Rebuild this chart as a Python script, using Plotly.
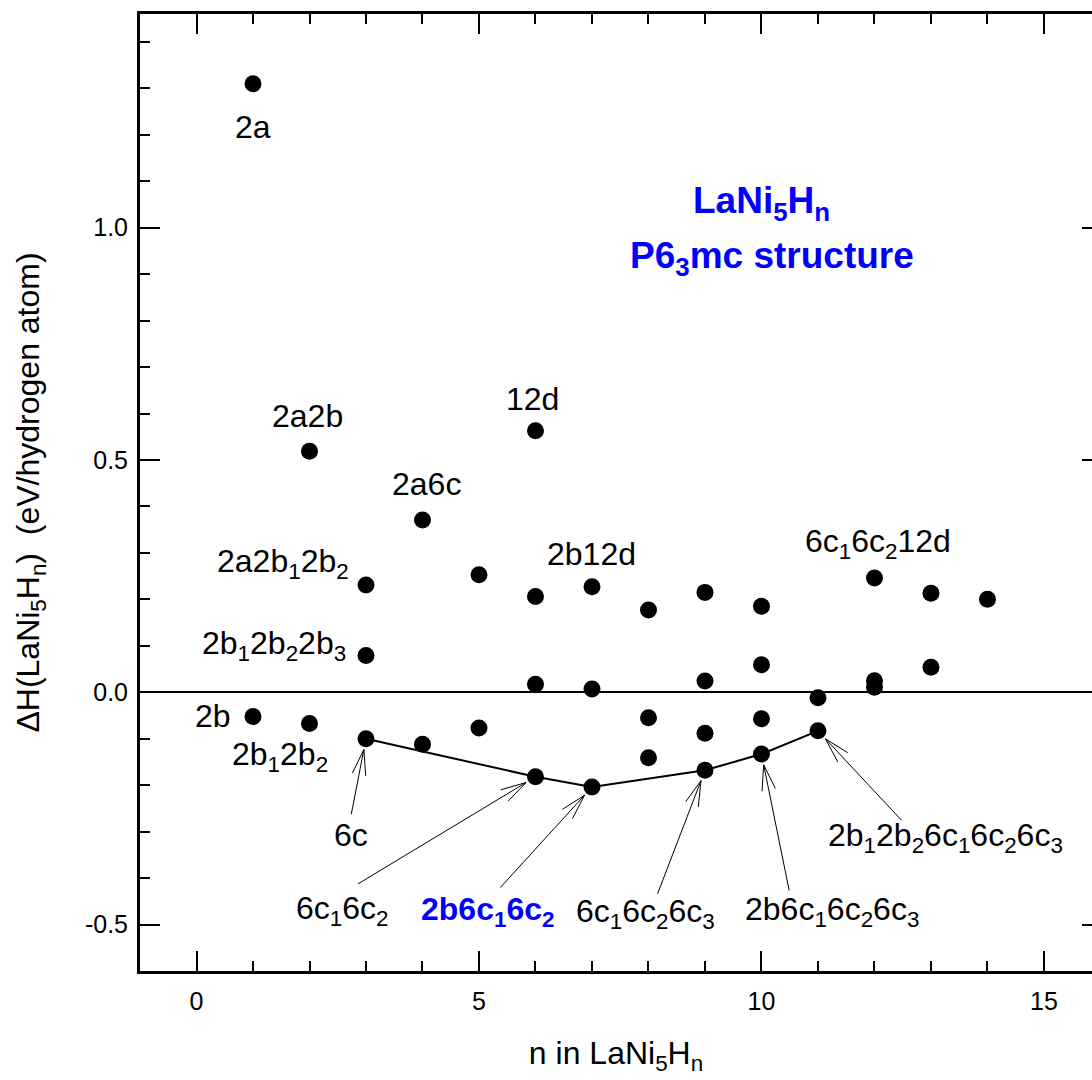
import math
import plotly.graph_objects as go

FONT = "Liberation Sans, Arial, sans-serif"
BLUE = "#0000ff"

# Formation enthalpy per hydrogen atom for every H configuration, grouped by n
n_h = [1, 1, 2, 2, 3, 3, 3, 4, 4, 5, 5, 6, 6, 6, 6, 7, 7, 7, 8, 8, 8,
       9, 9, 9, 9, 10, 10, 10, 10, 11, 11, 12, 12, 12, 13, 13, 14]
delta_h = [1.310, -0.052, 0.519, -0.067, 0.231, 0.079, -0.100, 0.371, -0.112,
           0.253, -0.077, 0.563, 0.206, 0.017, -0.182, 0.227, 0.007, -0.204,
           0.177, -0.055, -0.141, 0.215, 0.024, -0.088, -0.168, 0.185, 0.059,
           -0.057, -0.133, -0.012, -0.083, 0.246, 0.025, 0.011, 0.213, 0.054,
           0.200]

# Lowest-energy configurations (lower envelope)
hull_n = [3, 6, 7, 9, 10, 11]
hull_dh = [-0.100, -0.182, -0.204, -0.168, -0.133, -0.083]

# Site labels written next to individual points
label_n = [1, 2, 4, 6, 7, 12, 3, 3, 1, 2]
label_dh = [1.310, 0.519, 0.371, 0.563, 0.227, 0.246, 0.231, 0.079, -0.052, -0.067]
label_text = ["2a", "2a2b", "2a6c", "12d", "2b12d",
              "6c<sub>1</sub>6c<sub>2</sub>12d",
              "2a2b<sub>1</sub>2b<sub>2</sub>",
              "2b<sub>1</sub>2b<sub>2</sub>2b<sub>3</sub>",
              "2b", "2b<sub>1</sub>2b<sub>2</sub>"]
# pixel offsets (right, down) of each label centre from its point
label_off = [(0, 43), (-2, -35), (4, -36), (-3, -32), (0, -33), (4, -34),
             (-83, -21), (-92, -10), (-40, 0), (-30, 33)]

# Labels connected to envelope points by arrows
arrow_n = [3, 6, 7, 9, 10, 11]
arrow_dh = [-0.100, -0.182, -0.204, -0.168, -0.133, -0.083]
arrow_text = ["6c",
              "6c<sub>1</sub>6c<sub>2</sub>",
              "<b>2b6c<sub>1</sub>6c<sub>2</sub></b>",
              "6c<sub>1</sub>6c<sub>2</sub>6c<sub>3</sub>",
              "2b6c<sub>1</sub>6c<sub>2</sub>6c<sub>3</sub>",
              "2b<sub>1</sub>2b<sub>2</sub>6c<sub>1</sub>6c<sub>2</sub>6c<sub>3</sub>"]
arrow_color = ["black", "black", BLUE, "black", "black", "black"]
arrow_tail = [(-15, 77), (-179, 108), (-93, 102), (-48, 125), (28, 138), (85, 91)]
arrow_label_off = [(-15, 96), (-193, 134), (-104, 124), (-59, 143), (71, 157), (128, 107)]

x_tickvals = [0, 5, 10, 15]
x_ticktext = ["0", "5", "10", "15"]
y_tickvals = [-0.5, 0.0, 0.5, 1.0]
y_ticktext = ["-0.5", "0.0", "0.5", "1.0"]

fig = go.Figure()

fig.add_trace(go.Scatter(x=hull_n, y=hull_dh, mode="lines",
                         line=dict(color="black", width=2), hoverinfo="skip",
                         showlegend=False))
fig.add_trace(go.Scatter(x=n_h, y=delta_h, mode="markers",
                         marker=dict(color="black", size=17), showlegend=False))
# carrier for the right-hand tick marks
fig.add_trace(go.Scatter(x=[None], y=[None], yaxis="y2", showlegend=False))

annotations = []
for n, dh, txt, (dx, dy) in zip(label_n, label_dh, label_text, label_off):
    annotations.append(dict(x=n, y=dh, xref="x", yref="y", text=txt,
                            showarrow=False, xshift=dx, yshift=-dy,
                            xanchor="center", yanchor="middle",
                            font=dict(family=FONT, size=32, color="black")))

STANDOFF = 11
BARB = 28
HALF = math.radians(15)
for n, dh, txt, col, (tx, ty), (lx, ly) in zip(arrow_n, arrow_dh, arrow_text,
                                              arrow_color, arrow_tail, arrow_label_off):
    annotations.append(dict(x=n, y=dh, xref="x", yref="y", text=txt,
                            showarrow=False, xshift=lx, yshift=-ly,
                            xanchor="center", yanchor="middle",
                            font=dict(family=FONT, size=32, color=col)))
    length = math.hypot(tx, ty)
    ux, uy = tx / length, ty / length
    px, py = STANDOFF * ux, STANDOFF * uy
    pieces = [(tx - px, ty - py)]
    for sgn in (1, -1):
        c, s = math.cos(sgn * HALF), math.sin(sgn * HALF)
        pieces.append((BARB * (ux * c - uy * s), BARB * (ux * s + uy * c)))
    for ax, ay in pieces:
        annotations.append(dict(x=n, y=dh, xref="x", yref="y", text="",
                                showarrow=True, arrowhead=0, arrowwidth=1,
                                arrowcolor="black", ax=ax, ay=ay,
                                xshift=px, yshift=-py))

annotations.append(dict(x=10.0, y=1.054, xref="x", yref="y",
                        text="<b>LaNi<sub>5</sub>H<sub>n</sub></b>", showarrow=False,
                        xanchor="center", yanchor="middle",
                        font=dict(family=FONT, size=37, color=BLUE)))
annotations.append(dict(x=10.18, y=0.935, xref="x", yref="y",
                        text="<b>P6<sub>3</sub>mc structure</b>", showarrow=False,
                        xanchor="center", yanchor="middle",
                        font=dict(family=FONT, size=37, color=BLUE)))

fig.update_layout(
    width=1092, height=1080,
    margin=dict(l=140, r=0, t=14, b=109),
    paper_bgcolor="white", plot_bgcolor="white",
    font=dict(family=FONT, size=25, color="black"),
    annotations=annotations,
    xaxis=dict(range=[-1, 15.85], tickmode="array", tickvals=x_tickvals,
               ticktext=x_ticktext, ticks="inside", ticklen=20, tickwidth=2,
               tickcolor="black", showline=True, linewidth=3, linecolor="black",
               mirror="ticks", showgrid=False, zeroline=False,
               ticklabelstandoff=6,
               minor=dict(tickmode="linear", tick0=0, dtick=1, ticks="inside",
                          ticklen=10, tickwidth=1.5, tickcolor="black", showgrid=False),
               title=dict(text="n in LaNi<sub>5</sub>H<sub>n</sub>",
                          font=dict(family=FONT, size=32), standoff=28)),
    yaxis=dict(range=[-0.6, 1.46], tickmode="array", tickvals=y_tickvals,
               ticktext=y_ticktext, ticks="inside", ticklen=20, tickwidth=2,
               tickcolor="black", showline=True, linewidth=3, linecolor="black",
               mirror=False, showgrid=False, zeroline=True, zerolinewidth=1.5,
               zerolinecolor="black", ticklabelstandoff=4,
               minor=dict(tickmode="linear", tick0=0, dtick=0.1, ticks="inside",
                          ticklen=10, tickwidth=1.5, tickcolor="black", showgrid=False),
               title=dict(text="\u0394H(LaNi<sub>5</sub>H<sub>n</sub>)\u00a0\u00a0(eV/hydrogen atom)",
                          font=dict(family=FONT, size=32), standoff=36)),
    yaxis2=dict(range=[-0.6, 1.46], overlaying="y", side="right", tickmode="array",
                tickvals=y_tickvals, ticks="inside", ticklen=10, tickwidth=2,
                tickcolor="black", showticklabels=False, showline=False,
                showgrid=False, zeroline=False),
)

fig.write_html("out.html")
